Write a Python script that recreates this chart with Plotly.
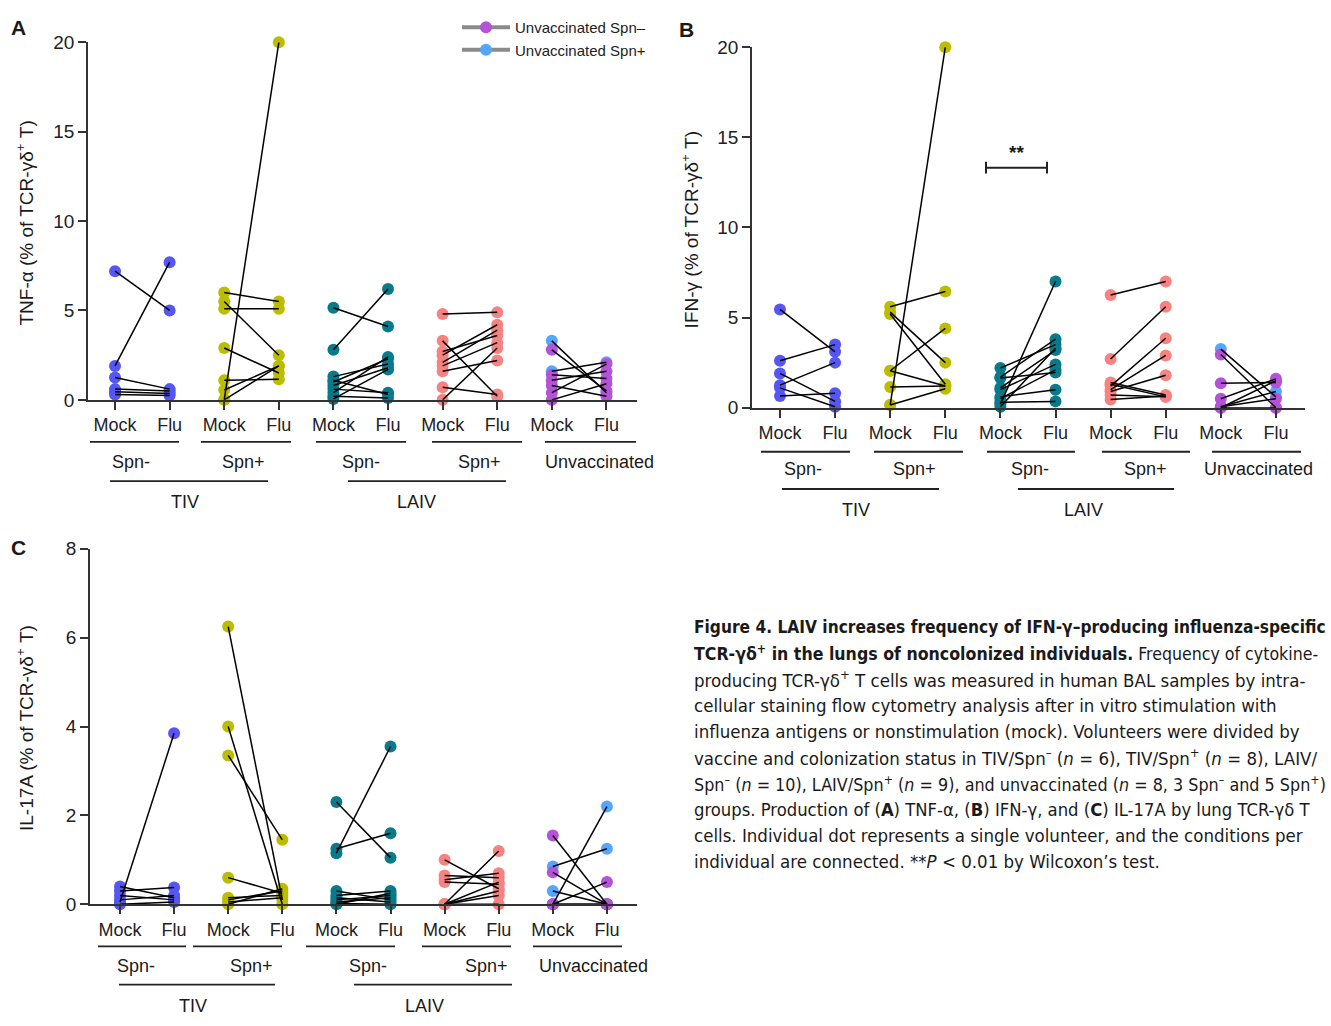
import plotly.graph_objects as go

W, H = 1331, 1026

# ---------------- DATA ----------------
categories = ["Mock", "Flu"] * 5
groups_lvl1 = ["Spn-", "Spn+", "Spn-", "Spn+", "Unvaccinated"]
groups_lvl2 = ["TIV", "LAIV"]

# Panel A : TNF-alpha
tnf_tiv_neg_mock = [7.2, 1.9, 1.25, 0.6, 0.45, 0.3]
tnf_tiv_neg_flu = [5.0, 7.7, 0.6, 0.5, 0.35, 0.25]
tnf_tiv_pos_mock = [6.0, 5.5, 5.1, 2.9, 1.1, 0.55, 0.0, 0.0]
tnf_tiv_pos_flu = [5.5, 2.5, 5.1, 1.5, 1.15, 1.9, 20.0, 1.9]
tnf_laiv_neg_mock = [5.15, 2.8, 1.3, 1.1, 1.0, 0.8, 0.6, 0.4, 0.2, 0.05]
tnf_laiv_neg_flu = [4.1, 6.2, 2.0, 0.3, 2.3, 1.8, 0.4, 2.4, 0.1, 1.7]
tnf_laiv_pos_mock = [4.8, 3.3, 2.7, 2.5, 1.9, 1.6, 0.7, 0.0, 2.1]
tnf_laiv_pos_flu = [4.9, 0.2, 3.6, 4.2, 3.2, 2.2, 0.3, 2.9, 3.9]
tnf_unvac_mock = [3.3, 2.8, 1.6, 1.4, 1.1, 0.8, 0.4, 0.0]
tnf_unvac_flu = [0.4, 0.5, 2.1, 1.2, 1.6, 0.2, 2.0, 0.9]
tnf_unvac_status = ["+", "-", "+", "-", "-", "-", "-", "-"]

# Panel B : IFN-gamma
ifn_tiv_neg_mock = [5.45, 2.6, 1.9, 1.25, 1.1, 0.65]
ifn_tiv_neg_flu = [3.1, 3.5, 0.35, 2.5, 0.05, 0.8]
ifn_tiv_pos_mock = [5.6, 5.2, 5.3, 2.05, 2.05, 1.15, 0.15, 0.15]
ifn_tiv_pos_flu = [6.45, 1.3, 2.5, 4.4, 1.2, 1.2, 20.0, 1.05]
ifn_laiv_neg_mock = [2.2, 1.7, 1.65, 1.1, 1.0, 0.6, 0.5, 0.3, 0.2, 0.05]
ifn_laiv_neg_flu = [3.5, 3.8, 1.95, 3.2, 2.4, 1.0, 2.1, 0.35, 7.0, 3.3]
ifn_laiv_pos_mock = [6.25, 2.7, 1.3, 1.2, 1.0, 0.9, 0.7, 0.45, 1.4]
ifn_laiv_pos_flu = [7.0, 5.6, 0.6, 3.85, 2.9, 1.8, 0.6, 0.65, 0.7]
ifn_unvac_mock = [3.25, 2.95, 1.35, 0.5, 0.05, 0.05, 0.0, 0.0]
ifn_unvac_flu = [0.6, 0.0, 1.4, 1.6, 0.9, 0.5, 1.5, 0.0]
ifn_unvac_status = ["+", "-", "-", "-", "+", "-", "+", "-"]

# Panel C : IL-17A
il17_tiv_neg_mock = [0.4, 0.3, 0.2, 0.1, 0.05, 0.0]
il17_tiv_neg_flu = [0.15, 0.38, 0.1, 0.2, 3.85, 0.05]
il17_tiv_pos_mock = [6.25, 4.0, 3.35, 0.6, 0.15, 0.0, 0.1, 0.05]
il17_tiv_pos_flu = [0.1, 0.0, 1.45, 0.25, 0.2, 0.35, 0.3, 0.15]
il17_laiv_neg_mock = [2.3, 1.15, 1.25, 0.3, 0.2, 0.15, 0.1, 0.05, 0.02, 0.0]
il17_laiv_neg_flu = [1.05, 3.55, 1.6, 0.1, 0.3, 0.05, 0.2, 0.15, 0.0, 0.25]
il17_laiv_pos_mock = [1.0, 0.65, 0.55, 0.5, 0.0, 0.0, 0.0, 0.0, 0.0]
il17_laiv_pos_flu = [0.35, 0.6, 0.7, 0.45, 1.2, 0.5, 0.3, 0.2, 0.0]
il17_unvac_mock = [1.55, 0.85, 0.72, 0.3, 0.0, 0.0, 0.0, 0.0]
il17_unvac_flu = [0.0, 1.25, 0.0, 0.0, 2.2, 0.5, 0.0, 0.0]
il17_unvac_status = ["-", "+", "-", "+", "+", "-", "+", "-"]

# ---------------- STYLE ----------------
C_TIV_NEG = "#5656f2"
C_TIV_POS = "#bcbc00"
C_LAIV_NEG = "#087a8a"
C_LAIV_POS = "#f78282"
C_UNV_NEG = "#b452d8"
C_UNV_POS = "#55a6ff"
AX = "#333333"
FONT = "Liberation Sans, Arial, sans-serif"

def px(x):
    return x / W

def py(y):
    return 1 - y / H

fig = go.Figure()

panels = [
    dict(xa="x", ya="y",
         groups=[(tnf_tiv_neg_mock, tnf_tiv_neg_flu, C_TIV_NEG),
                 (tnf_tiv_pos_mock, tnf_tiv_pos_flu, C_TIV_POS),
                 (tnf_laiv_neg_mock, tnf_laiv_neg_flu, C_LAIV_NEG),
                 (tnf_laiv_pos_mock, tnf_laiv_pos_flu, C_LAIV_POS)],
         unvac=(tnf_unvac_mock, tnf_unvac_flu, tnf_unvac_status)),
    dict(xa="x2", ya="y2",
         groups=[(ifn_tiv_neg_mock, ifn_tiv_neg_flu, C_TIV_NEG),
                 (ifn_tiv_pos_mock, ifn_tiv_pos_flu, C_TIV_POS),
                 (ifn_laiv_neg_mock, ifn_laiv_neg_flu, C_LAIV_NEG),
                 (ifn_laiv_pos_mock, ifn_laiv_pos_flu, C_LAIV_POS)],
         unvac=(ifn_unvac_mock, ifn_unvac_flu, ifn_unvac_status)),
    dict(xa="x3", ya="y3",
         groups=[(il17_tiv_neg_mock, il17_tiv_neg_flu, C_TIV_NEG),
                 (il17_tiv_pos_mock, il17_tiv_pos_flu, C_TIV_POS),
                 (il17_laiv_neg_mock, il17_laiv_neg_flu, C_LAIV_NEG),
                 (il17_laiv_pos_mock, il17_laiv_pos_flu, C_LAIV_POS)],
         unvac=(il17_unvac_mock, il17_unvac_flu, il17_unvac_status)),
]

MS = 12

def add_pairs(mock, flu, colors, gi, xa, ya):
    xm, xf = 2 * gi, 2 * gi + 1
    fig.add_trace(go.Scatter(
        x=[xm] * len(mock) + [xf] * len(flu), y=list(mock) + list(flu),
        mode="markers", xaxis=xa, yaxis=ya, showlegend=False, cliponaxis=False,
        marker=dict(size=MS, color=list(colors) + list(colors), line=dict(width=0)),
        hoverinfo="skip"))
    lx, ly = [], []
    for m, f in zip(mock, flu):
        lx += [xm, xf, None]
        ly += [m, f, None]
    fig.add_trace(go.Scatter(
        x=lx, y=ly, mode="lines", xaxis=xa, yaxis=ya, showlegend=False,
        cliponaxis=False, line=dict(color="black", width=1.5), hoverinfo="skip"))

for p in panels:
    for gi, (mock, flu, col) in enumerate(p["groups"]):
        add_pairs(mock, flu, [col] * len(mock), gi, p["xa"], p["ya"])
    um, uf, us = p["unvac"]
    order = [i for i in range(len(um)) if us[i] == "+"] + [i for i in range(len(um)) if us[i] == "-"]
    m = [um[i] for i in order]
    f = [uf[i] for i in order]
    c = [C_UNV_POS if us[i] == "+" else C_UNV_NEG for i in order]
    add_pairs(m, f, c, 4, p["xa"], p["ya"])

for name, col in [("Unvaccinated Spn\u2013", C_UNV_NEG), ("Unvaccinated Spn+", C_UNV_POS)]:
    fig.add_trace(go.Scatter(x=[None], y=[None], mode="lines+markers", name=name,
                             line=dict(color="#8a8a8a", width=4),
                             marker=dict(size=12, color=col)))

def xaxis_cfg(domain, rng, anchor):
    return dict(domain=domain, range=rng, anchor=anchor, showline=True, linecolor=AX,
                linewidth=1.8, ticks="outside", ticklen=8, tickwidth=1.6, tickcolor=AX,
                tickvals=list(range(10)), ticktext=categories, showgrid=False, zeroline=False,
                tickfont=dict(family=FONT, size=18, color="#222"), fixedrange=True)

def yaxis_cfg(domain, rng, dtick, anchor):
    return dict(domain=domain, range=rng, anchor=anchor, showline=True, linecolor=AX,
                linewidth=1.8, ticks="outside", ticklen=8, tickwidth=1.6, tickcolor=AX,
                dtick=dtick, tick0=0, showgrid=False, zeroline=False,
                tickfont=dict(family=FONT, size=19, color="#222"), fixedrange=True)

annotations = []
shapes = []

def text(x, y, s, size=18, bold=False, angle=0, xanchor="center", font=FONT, yanchor="middle"):
    annotations.append(dict(x=px(x), y=py(y), xref="paper", yref="paper", text=(f"<b>{s}</b>" if bold else s),
                            showarrow=False, textangle=angle, xanchor=xanchor, yanchor=yanchor,
                            font=dict(family=font, size=size, color="#1a1a1a")))

def hline(x0, x1, y, w=1.8):
    shapes.append(dict(type="line", xref="paper", yref="paper", x0=px(x0), x1=px(x1),
                       y0=py(y), y1=py(y), line=dict(color="#222", width=w)))

def group_labels(y_l1, y_t1, y_l2, y_t2, lines1, texts1, lines2, texts2):
    for (a, b) in lines1:
        hline(a, b, y_l1)
    for (xc, s) in zip(texts1, groups_lvl1):
        text(xc, y_t1, s)
    for (a, b) in lines2:
        hline(a, b, y_l2)
    for (xc, s) in zip(texts2, groups_lvl2):
        text(xc, y_t2, s)

group_labels(441, 461, 481, 502,
             [(90, 179), (201, 291), (316, 406), (432, 522), (545, 636)],
             [131, 243, 361, 479, 599],
             [(110, 268), (348, 506)], [185, 416])
group_labels(451, 469, 489, 510,
             [(761, 850), (874, 963), (987, 1075), (1102, 1190), (1212, 1301)],
             [803, 914, 1030, 1145, 1258],
             [(782, 939), (1018, 1174)], [856, 1083])
group_labels(956, 976, 995, 1017,
             [(98, 186), (193, 282), (306, 395), (422, 511), (533, 622)],
             [136, 251, 368, 486, 593],
             [(119, 275), (354, 512)], [193, 424])

text(25, 218, "TNF-\u03b1 (% of TCR-\u03b3\u03b4<sup>+</sup> T)", size=19, angle=-90)
text(690, 225, "IFN-\u03b3 (% of TCR-\u03b3\u03b4<sup>+</sup> T)", size=19, angle=-90)
text(25, 733, "IL-17A (% of TCR-\u03b3\u03b4<sup>+</sup> T)", size=19, angle=-90)

text(18, 18, "A", size=21, bold=True)
text(686, 20, "B", size=21, bold=True)
text(18, 549, "C", size=21, bold=True)

hline(985, 1048, 161, w=2)
shapes.append(dict(type="line", xref="paper", yref="paper", x0=px(986), x1=px(986), y0=py(155), y1=py(167), line=dict(color="#222", width=2)))
shapes.append(dict(type="line", xref="paper", yref="paper", x0=px(1047), x1=px(1047), y0=py(155), y1=py(167), line=dict(color="#222", width=2)))
text(1016, 145, "**", size=19, bold=True)

CAP_FONT = "Liberation Sans Narrow, DejaVu Sans Condensed, Roboto Condensed, sans-serif"
caption = [
    "<b>Figure 4. LAIV increases frequency of IFN-\u03b3\u2013producing influenza-specific</b>",
    "<b>TCR-\u03b3\u03b4<sup>+</sup> in the lungs of noncolonized individuals.</b> Frequency of cytokine-",
    "producing TCR-\u03b3\u03b4<sup>+</sup> T cells was measured in human BAL samples by intra-",
    "cellular staining flow cytometry analysis after in vitro stimulation with",
    "influenza antigens or nonstimulation (mock). Volunteers were divided by",
    "vaccine and colonization status in TIV/Spn<sup>\u2013</sup> (<i>n</i> = 6), TIV/Spn<sup>+</sup> (<i>n</i> = 8), LAIV/",
    "Spn<sup>\u2013</sup> (<i>n</i> = 10), LAIV/Spn<sup>+</sup> (<i>n</i> = 9), and unvaccinated (<i>n</i> = 8, 3 Spn<sup>\u2013</sup> and 5 Spn<sup>+</sup>)",
    "groups. Production of (<b>A</b>) TNF-\u03b1, (<b>B</b>) IFN-\u03b3, and (<b>C</b>) IL-17A by lung TCR-\u03b3\u03b4 T",
    "cells. Individual dot represents a single volunteer, and the conditions per",
    "individual are connected. **<i>P</i> &lt; 0.01 by Wilcoxon\u2019s test.",
]
cap_sizes = [17.2, 17.6, 18.5, 18.5, 18.5, 18.5, 17.8, 18.3, 18.5, 18.5]
for i, line in enumerate(caption):
    text(692, 630 + i * 26.6, line, size=cap_sizes[i], xanchor="left", font=CAP_FONT)

fig.update_layout(
    width=W, height=H, margin=dict(l=0, r=0, t=0, b=0),
    paper_bgcolor="white", plot_bgcolor="white",
    xaxis=xaxis_cfg([px(88), px(637)], [-0.495, 9.56], "y"),
    yaxis=yaxis_cfg([py(398), py(33)], [0, 20], 5, "x"),
    xaxis2=xaxis_cfg([px(752), px(1305)], [-0.508, 9.528], "y2"),
    yaxis2=yaxis_cfg([py(406), py(38)], [0, 20], 5, "x2"),
    xaxis3=xaxis_cfg([px(90), px(637)], [-0.5545, 9.556], "y3"),
    yaxis3=yaxis_cfg([py(913), py(550)], [0, 8], 2, "x3"),
    annotations=annotations, shapes=shapes,
    showlegend=True,
    legend=dict(x=px(457), y=py(1), xanchor="left", yanchor="top", bgcolor="rgba(0,0,0,0)",
                font=dict(family=FONT, size=15, color="#222"), tracegroupgap=0, itemwidth=48),
)

fig.write_html("out.html", config={"displayModeBar": False},
               post_script="document.body.style.margin='0';document.body.style.padding='0';document.documentElement.style.overflow='hidden';")
